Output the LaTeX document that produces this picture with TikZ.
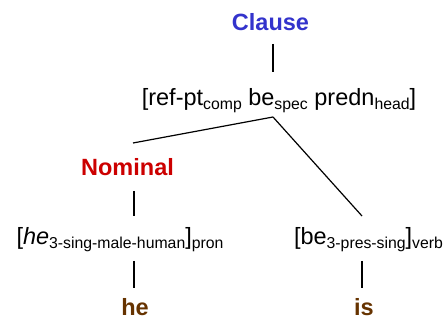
\documentclass[tikz,border=0pt]{standalone}
\usepackage{fontspec}
\setmainfont{Liberation Sans}
\usetikzlibrary{calc}
\definecolor{clauseblue}{RGB}{51,51,204}
\definecolor{nomred}{RGB}{204,0,0}
\definecolor{wordbrown}{RGB}{102,51,0}
\newcommand{\lsub}[1]{\raisebox{-4pt}{\fontsize{15.8}{16}\selectfont #1}}
\begin{document}
\begin{tikzpicture}[x=1pt,y=-1pt,
  lab/.style={anchor=base,inner sep=0pt,font=\fontsize{23.5}{26}\selectfont},
  cat/.style={lab,font=\fontsize{23.5}{26}\selectfont\bfseries},
  link/.style={line width=1.2pt}]
\useasboundingbox (0,0) rectangle (447,320);
\node[cat,text=clauseblue] (clause) at (270.5,31) {Clause};
\node[lab] (top) at (279,106) {[ref-pt\lsub{comp} be\lsub{spec} predn\lsub{head}]};
\node[cat,text=nomred] (nominal) at (127.5,176) {Nominal};
\node[lab] (pron) at (120,245) {[\textit{he}\lsub{3-sing-male-human}]\lsub{pron}};
\node[lab] (verb) at (368.5,245) {[be\lsub{3-pres-sing}]\lsub{verb}};
\node[cat,text=wordbrown] (he) at (135,316) {he};
\node[cat,text=wordbrown] (is) at (364,316) {is};
\draw[link] ($(clause.base)+(2.5,13)$) -- ($(top.base)+(-6,-34)$);
\draw[link] ($(top.base)+(-6,11)$) -- ($(nominal.base)+(5.5,-33)$);
\draw[link] ($(top.base)+(-6,11)$) -- ($(verb.base)+(-6.5,-29)$);
\draw[link] ($(nominal.base)+(6.5,15)$) -- ($(pron.base)+(14,-29)$);
\draw[link] ($(pron.base)+(14,16)$) -- ($(he.base)+(-1,-28)$);
\draw[link] ($(verb.base)+(-6.5,16)$) -- ($(is.base)+(-2,-28)$);
\end{tikzpicture}
\end{document}
